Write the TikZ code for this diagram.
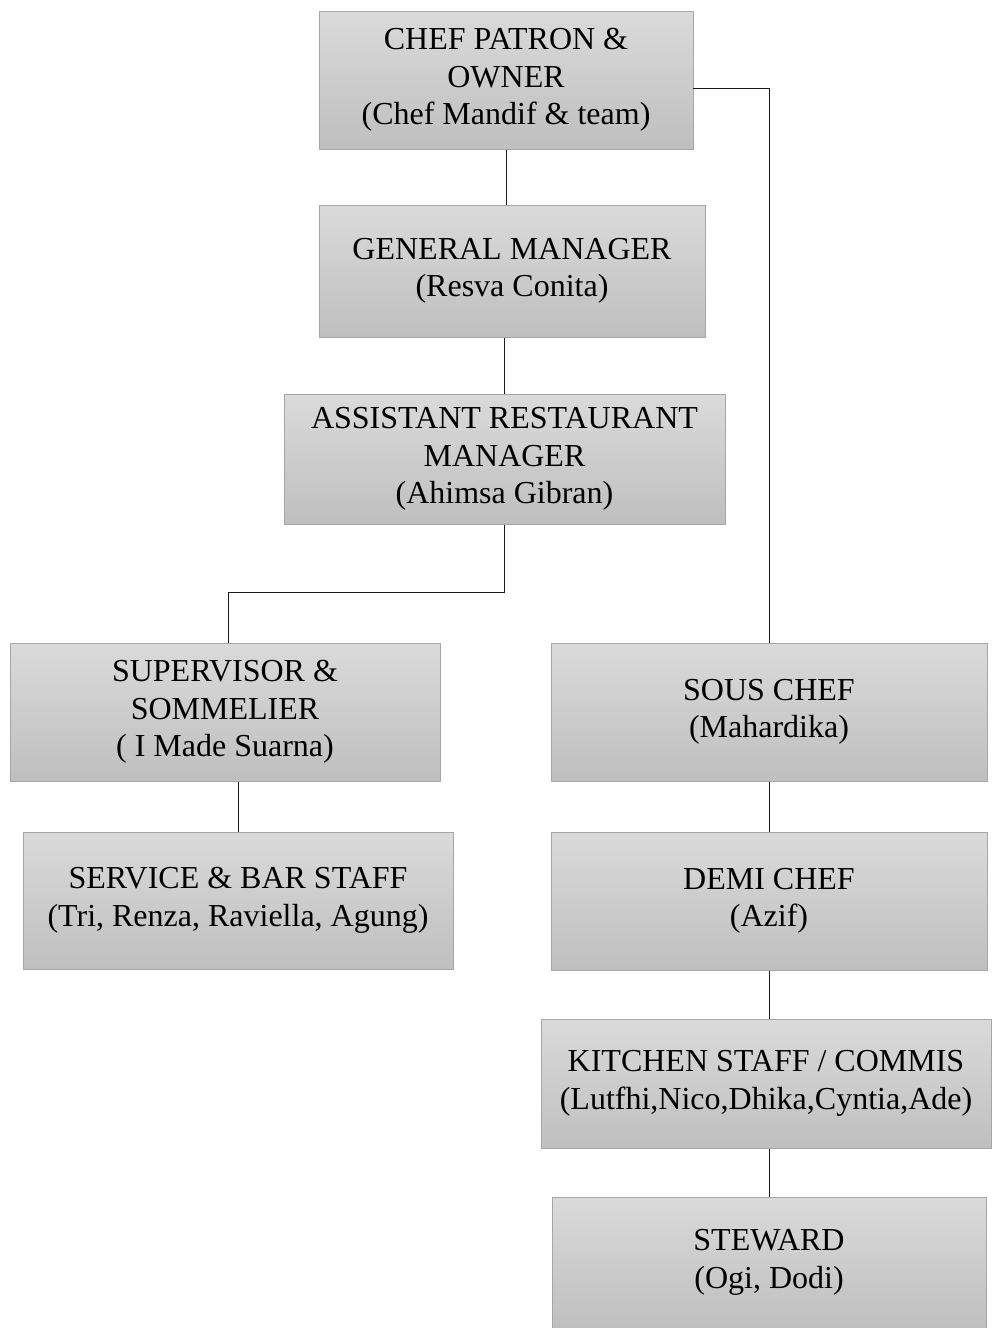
\documentclass[tikz,border=0pt]{standalone}
\usepackage{fontspec}
\setmainfont{Liberation Serif}
\definecolor{boxtop}{HTML}{DADADA}
\definecolor{boxbot}{HTML}{BFBFBF}
\definecolor{boxline}{HTML}{A6A6A6}
\definecolor{conn}{HTML}{1A1A1A}
\tikzset{
  orgbox/.style={draw=boxline, line width=1pt, top color=boxtop, bottom color=boxbot,
    inner sep=0pt, align=center, font=\fontsize{32}{37.5}\selectfont},
  connector/.style={draw=conn, line width=1pt}
}
\newcommand{\orgnode}[6]{%
  \node[orgbox, minimum width=#4-#2, minimum height=#5-#3] (#1) at ({(#2+#4)/2},{(#3+#5)/2}) {#6};}
\begin{document}
\begin{tikzpicture}[x=1pt,y=-1pt]
\useasboundingbox (0,0) rectangle (991,1328);
\orgnode{chef}{319}{11}{693}{149}{CHEF PATRON \&\\OWNER\\(Chef Mandif \& team)}
\orgnode{gm}{319}{205}{705}{337}{GENERAL MANAGER\\(Resva Conita)}
\orgnode{arm}{284}{394}{725}{524}{ASSISTANT RESTAURANT\\MANAGER\\(Ahimsa Gibran)}
\orgnode{sup}{10}{643}{440}{781}{SUPERVISOR \&\\SOMMELIER\\( I Made Suarna)}
\orgnode{serv}{23}{832}{453}{969}{SERVICE \& BAR STAFF\\(Tri, Renza, Raviella, Agung)}
\orgnode{sous}{551}{643}{987}{781}{SOUS CHEF\\(Mahardika)}
\orgnode{demi}{551}{832}{987}{970}{DEMI CHEF\\(Azif)}
\orgnode{kit}{541}{1019}{991}{1148}{KITCHEN STAFF / COMMIS\\(Lutfhi,Nico,Dhika,Cyntia,Ade)}
\orgnode{stew}{552}{1197}{986}{1328}{STEWARD\\(Ogi, Dodi)}
\coordinate (bend) at (228,592);
\coordinate (chefout) at (693,88);
\draw[connector] (chef.south) -- (chef.south |- gm.north);
\draw[connector] (arm.north) -- (arm.north |- gm.south);
\draw[connector] (arm.south) -- (arm.south |- bend) -- (bend) -- (bend |- sup.north);
\draw[connector] (serv.north) -- (serv.north |- sup.south);
\draw[connector] (chefout) -| (sous.north);
\draw[connector] (sous.south) -- (demi.north);
\draw[connector] (demi.south) -- (demi.south |- kit.north);
\draw[connector] (stew.north) -- (stew.north |- kit.south);
\end{tikzpicture}
\end{document}
